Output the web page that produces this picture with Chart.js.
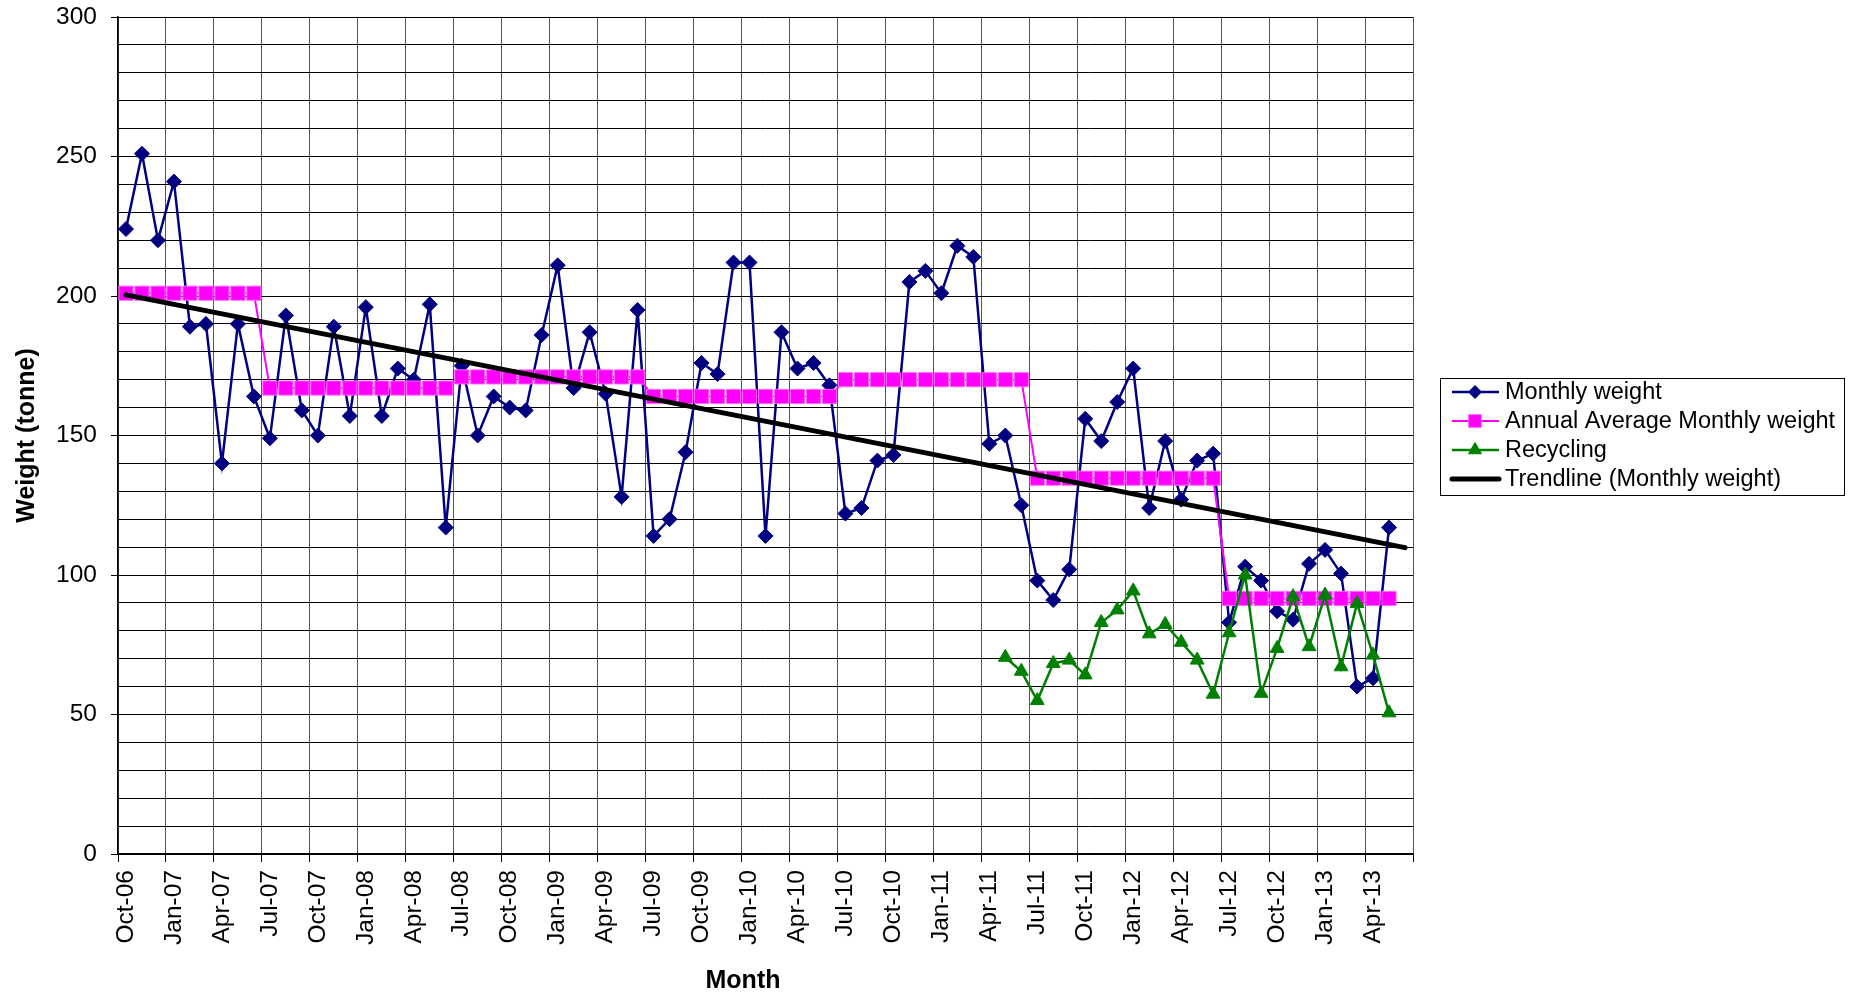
<!DOCTYPE html>
<html>
<head>
<meta charset="utf-8">
<script src="https://cdn.jsdelivr.net/npm/chart.js@4/dist/chart.umd.min.js"></script>
<style>
    body { margin: 0; background: #fff; }
    #wrap { width: 1857px; height: 996px; }
</style>
</head>
<body>
<div id="wrap"><canvas id="chart" width="1857" height="996"></canvas></div>
<script>
// month categories (Oct-06 .. Jun-13)
const months = [
    'Oct-06', 'Nov-06', 'Dec-06',
    'Jan-07', 'Feb-07', 'Mar-07', 'Apr-07', 'May-07', 'Jun-07', 'Jul-07', 'Aug-07', 'Sep-07', 'Oct-07', 'Nov-07', 'Dec-07',
    'Jan-08', 'Feb-08', 'Mar-08', 'Apr-08', 'May-08', 'Jun-08', 'Jul-08', 'Aug-08', 'Sep-08', 'Oct-08', 'Nov-08', 'Dec-08',
    'Jan-09', 'Feb-09', 'Mar-09', 'Apr-09', 'May-09', 'Jun-09', 'Jul-09', 'Aug-09', 'Sep-09', 'Oct-09', 'Nov-09', 'Dec-09',
    'Jan-10', 'Feb-10', 'Mar-10', 'Apr-10', 'May-10', 'Jun-10', 'Jul-10', 'Aug-10', 'Sep-10', 'Oct-10', 'Nov-10', 'Dec-10',
    'Jan-11', 'Feb-11', 'Mar-11', 'Apr-11', 'May-11', 'Jun-11', 'Jul-11', 'Aug-11', 'Sep-11', 'Oct-11', 'Nov-11', 'Dec-11',
    'Jan-12', 'Feb-12', 'Mar-12', 'Apr-12', 'May-12', 'Jun-12', 'Jul-12', 'Aug-12', 'Sep-12', 'Oct-12', 'Nov-12', 'Dec-12',
    'Jan-13', 'Feb-13', 'Mar-13', 'Apr-13', 'May-13', 'Jun-13'
];

const monthlyWeight = [
    224, 251, 220,
    241, 189, 190, 140, 190, 164, 149, 193, 159, 150, 189, 157,
    196, 157, 174, 170, 197, 117, 175, 150, 164, 160, 159, 186,
    211, 167, 187, 165, 128, 195, 114, 120, 144, 176, 172, 212,
    212, 114, 187, 174, 176, 168, 122, 124, 141, 143, 205, 209,
    201, 218, 214, 147, 150, 125, 98, 91, 102, 156, 148, 162,
    174, 124, 148, 127, 141, 143.5, 83, 103, 98, 87, 84, 104,
    109, 100.5, 60, 63, 117, null
];

const annualAverage = [
    201, 201, 201,
    201, 201, 201, 201, 201, 201, 167, 167, 167, 167, 167, 167,
    167, 167, 167, 167, 167, 167, 171, 171, 171, 171, 171, 171,
    171, 171, 171, 171, 171, 171, 164, 164, 164, 164, 164, 164,
    164, 164, 164, 164, 164, 164, 170, 170, 170, 170, 170, 170,
    170, 170, 170, 170, 170, 170, 134.7, 134.7, 134.7, 134.7, 134.7, 134.7,
    134.7, 134.7, 134.7, 134.7, 134.7, 134.7, 91.6, 91.6, 91.6, 91.6, 91.6, 91.6,
    91.6, 91.6, 91.6, 91.6, 91.6, null
];

const recycling = [
    null, null, null,
    null, null, null, null, null, null, null, null, null, null, null, null,
    null, null, null, null, null, null, null, null, null, null, null, null,
    null, null, null, null, null, null, null, null, null, null, null, null,
    null, null, null, null, null, null, null, null, null, null, null, null,
    null, null, null, null, 70.5, 65.5, 55, 68.3, 69.5, 64.2, 83, 87.5,
    94.3, 78.9, 82.3, 75.9, 69.5, 57.3, 79.3, 100, 57.6, 73.7, 92.2, 74.3,
    92.8, 67.1, 89.8, 71.3, 50.6, null
];

// trendline end points (first and last month)
const trendStart = 200.4;
const trendEnd = 109.8;
const trendline = months.map((m, i) => i === 0 ? trendStart : (i === months.length - 1 ? trendEnd : null));

const fontFamily = '"Liberation Sans", Arial, sans-serif';
Chart.defaults.font.family = fontFamily;
Chart.defaults.color = '#000';

// boxed legend like the spreadsheet one
const boxLegend = {
    id: 'boxLegend',
    afterDraw(chart) {
        const ctx = chart.ctx;
        ctx.save();
        ctx.strokeStyle = '#000';
        ctx.lineWidth = 1;
        ctx.strokeRect(1440.5, 378.5, 404, 117);
        chart.data.datasets.forEach((ds, i) => {
            const cy = 392 + i * 29;
            ctx.strokeStyle = ds.borderColor;
            ctx.lineWidth = ds.borderWidth;
            ctx.lineCap = ds.borderCapStyle || 'butt';
            ctx.beginPath();
            ctx.moveTo(1452, cy);
            ctx.lineTo(1499, cy);
            ctx.stroke();
            if (ds.legendRadius) {
                ctx.fillStyle = ds.pointBackgroundColor;
                ctx.strokeStyle = ds.pointBorderColor;
                ctx.lineWidth = 1;
                Chart.helpers.drawPoint(ctx, {pointStyle: ds.pointStyle, radius: ds.legendRadius, borderWidth: 1, rotation: 0}, 1475, cy);
            }
            ctx.fillStyle = '#000';
            ctx.font = '23.5px ' + fontFamily;
            ctx.textBaseline = 'middle';
            ctx.textAlign = 'left';
            ctx.fillText(ds.label, 1505, cy + 1);
        });
        // x axis title
        ctx.font = 'bold 25px ' + fontFamily;
        ctx.textAlign = 'center';
        ctx.textBaseline = 'middle';
        ctx.fillText('Month', 743, 981);
        ctx.restore();
    }
};

const ctx = document.getElementById('chart').getContext('2d');
const chart = new Chart(ctx, {
    type: 'line',
    data: {
        labels: months,
        datasets: [
            {
                label: 'Monthly weight',
                data: monthlyWeight,
                borderColor: '#000080',
                backgroundColor: '#000080',
                borderWidth: 2.5,
                pointStyle: 'rectRot',
                pointRadius: 7.5,
                pointBackgroundColor: '#000080',
                pointBorderColor: '#000080',
                pointBorderWidth: 1,
                legendRadius: 6.5,
                order: 4
            },
            {
                label: 'Annual Average Monthly weight',
                data: annualAverage,
                borderColor: '#FF00FF',
                backgroundColor: '#FF00FF',
                borderWidth: 2,
                pointStyle: 'rect',
                pointRadius: 10,
                pointBackgroundColor: '#FF00FF',
                pointBorderColor: '#FF66FF',
                pointBorderWidth: 1,
                legendRadius: 9,
                order: 3
            },
            {
                label: 'Recycling',
                data: recycling,
                borderColor: '#008000',
                backgroundColor: '#008000',
                borderWidth: 2.5,
                pointStyle: 'triangle',
                pointRadius: 8,
                pointBackgroundColor: '#008000',
                pointBorderColor: '#008000',
                pointBorderWidth: 1,
                legendRadius: 7.5,
                order: 2
            },
            {
                label: 'Trendline (Monthly weight)',
                data: trendline,
                borderColor: '#000',
                backgroundColor: '#000',
                borderWidth: 5,
                borderCapStyle: 'round',
                pointRadius: 0,
                spanGaps: true,
                order: 1
            }
        ]
    },
    options: {
        responsive: false,
        animation: false,
        layout: {
            padding: {left: 0, right: 444, top: 17, bottom: 0}
        },
        plugins: {
            legend: {display: false},
            tooltip: {enabled: false}
        },
        scales: {
            x: {
                type: 'category',
                offset: true,
                afterFit: (scale) => {
                    scale.height = 142;
                    scale.paddingLeft = 0;
                    scale.paddingRight = 0;
                },
                grid: {
                    offset: true,
                    drawOnChartArea: true,
                    tickLength: 8,
                    lineWidth: 1,
                    color: (c) => (c.index === undefined || c.index % 3 === 0) ? '#555' : 'rgba(0,0,0,0)',
                    tickColor: (c) => (c.index === undefined || c.index % 3 === 0) ? '#000' : 'rgba(0,0,0,0)'
                },
                border: {color: '#000', width: 1.5},
                ticks: {
                    autoSkip: false,
                    minRotation: 90,
                    maxRotation: 90,
                    padding: 8,
                    font: {size: 24.5},
                    callback: function (val, i) {
                        return i % 3 === 0 ? this.getLabelForValue(val) : '';
                    }
                }
            },
            y: {
                min: 0,
                max: 300,
                afterFit: (scale) => {
                    scale.width = 118;
                    scale.paddingTop = 0;
                    scale.paddingBottom = 0;
                },
                grid: {
                    tickLength: 7,
                    lineWidth: 1,
                    color: '#000',
                    tickColor: (c) => (c.tick && c.tick.value % 50 === 0) ? '#000' : 'rgba(0,0,0,0)'
                },
                border: {color: '#000', width: 1.5},
                ticks: {
                    stepSize: 10,
                    autoSkip: false,
                    padding: 14,
                    font: {size: 24.5},
                    callback: (v) => v % 50 === 0 ? v : ''
                },
                title: {
                    display: true,
                    text: 'Weight (tonne)',
                    font: {size: 25, weight: 'bold'},
                    padding: {top: 12, bottom: 0}
                }
            }
        }
    },
    plugins: [boxLegend]
});
</script>
</body>
</html>
